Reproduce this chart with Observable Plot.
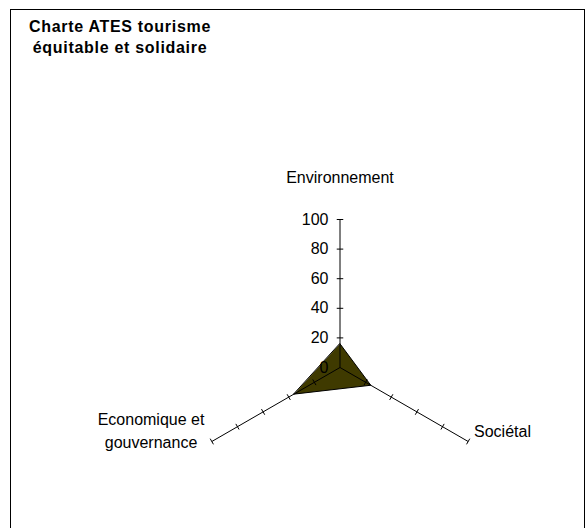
<!DOCTYPE html>
<html><head><meta charset="utf-8">
<script src="https://cdn.jsdelivr.net/npm/d3@7"></script>
<script src="https://cdn.jsdelivr.net/npm/@observablehq/plot@0.6"></script>
<style>
body{margin:0;background:#fff;width:585px;height:528px;overflow:hidden;position:relative;font-family:"Liberation Sans",Arial,sans-serif}
#frame{position:absolute;left:10px;top:9px;width:575px;height:600px;border:1px solid #000;box-sizing:border-box}
#title{position:absolute;left:0;top:16.3px;width:240px;text-align:center;font-weight:bold;font-size:16px;line-height:21px;letter-spacing:0.7px;color:#000}
#chart{position:absolute;left:0;top:0}
</style></head><body>
<div id="frame"></div>
<div id="chart"></div>
<div id="title"></div>
<script>
const titleLines = ["Charte ATES tourisme", "équitable et solidaire"];
const axes = ["Environnement", "Sociétal", "Economique et\ngouvernance"];
const values = [16, 24, 36];
const ticks = [0, 20, 40, 60, 80, 100];

// layout
const W = 585, H = 528, CX = 339.5, CY = 367, PX = 1.48; // px per unit
const maxV = ticks[ticks.length - 1];
const ang = i => Math.PI / 2 - i * 2 * Math.PI / axes.length;
const labelStyle = [
  {dx: 0, dy: -44},
  {dx: 34.3, dy: -12},
  {dx: -60.8, dy: -12}
];

document.getElementById("title").innerHTML = titleLines.join("<br>");

const poly = axes.map((a, i) => ({x: values[i] * Math.cos(ang(i)), y: values[i] * Math.sin(ang(i))}));
const spokes = axes.map((a, i) => ({x1: 0, y1: 0, x2: maxV * Math.cos(ang(i)), y2: maxV * Math.sin(ang(i))}));
const h = 2.2;
const tickSegs = [];
axes.forEach((a, i) => {
  const c = Math.cos(ang(i)), s = Math.sin(ang(i));
  ticks.filter(t => t > 0).forEach(t => {
    tickSegs.push({x1: t * c - s * h, y1: t * s + c * h, x2: t * c + s * h, y2: t * s - c * h});
  });
});
const labels = axes.map((a, i) => ({name: a, x: maxV * Math.cos(ang(i)), y: maxV * Math.sin(ang(i)), ...labelStyle[i]}));

const marks = [
  Plot.line(poly, {x: "x", y: "y", curve: "linear-closed", fill: "#3f3a00", stroke: "#000", strokeWidth: 1}),
  Plot.link(spokes, {x1: "x1", y1: "y1", x2: "x2", y2: "y2", stroke: "#000", strokeWidth: 1}),
  Plot.link(tickSegs, {x1: "x1", y1: "y1", x2: "x2", y2: "y2", stroke: "#000", strokeWidth: 1}),
  Plot.text(ticks, {x: d => d * Math.cos(ang(0)), y: d => d * Math.sin(ang(0)), text: d => String(d), textAnchor: "end", dx: -11.5, fontSize: 16, fill: "#000"})
];
labels.forEach(l => {
  marks.push(Plot.text([l], {x: "x", y: "y", text: "name", textAnchor: "middle", lineAnchor: "middle", lineHeight: 1.4, dx: l.dx, dy: l.dy, fontSize: 16, fill: "#000"}));
});

const chart = Plot.plot({
  width: W, height: H,
  margin: 0,
  x: {domain: [-CX / PX, (W - CX) / PX], axis: null},
  y: {domain: [-(H - CY) / PX, CY / PX], axis: null},
  style: {fontFamily: "'Liberation Sans', Arial, sans-serif", background: "transparent", overflow: "visible"},
  marks
});
document.getElementById("chart").appendChild(chart);
</script>
</body></html>
